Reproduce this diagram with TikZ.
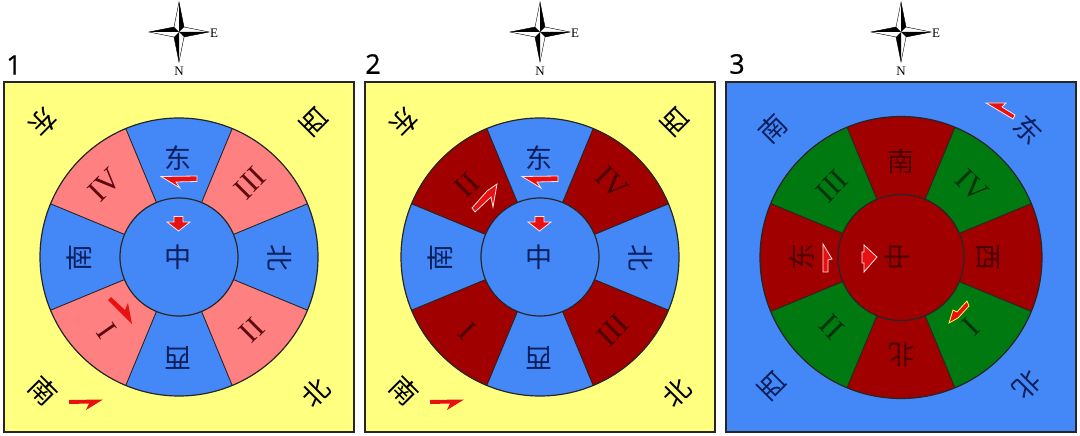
\documentclass[tikz,border=0pt]{standalone}
\usepackage{fontspec}
\setmainfont{Liberation Serif}
\newfontfamily\cjk{Noto Sans CJK SC}
\newfontfamily\numfont[FakeBold=0.6]{Open Sans}
\definecolor{wyellow}{HTML}{FFFF80}
\definecolor{wblue}{HTML}{4488F8}
\definecolor{wpink}{HTML}{FF8080}
\definecolor{wdark}{HTML}{A00000}
\definecolor{wgreen}{HTML}{007A10}
\definecolor{arrowred}{HTML}{E81010}
\definecolor{inkblue}{HTML}{0A1F5C}
\definecolor{inkred}{HTML}{4A0000}
\definecolor{inkmaroon}{HTML}{5C0A10}
\definecolor{inkgreen}{HTML}{00330A}
\tikzset{
  x=1pt,y=-1pt,
  panel/.style={draw=black!85,line width=1.3pt},
  sector/.style={draw=black!85,line width=1.2pt},
  hanzi/.style={font=\cjk\fontsize{27}{27}\selectfont,inner sep=0pt,text=#1},
  hanzi/.default=black,
  roman/.style={font=\fontsize{31}{31}\selectfont,inner sep=0pt,text=#1},
  flow/.style={fill=arrowred,draw=white!90!red,line width=0.8pt,line join=miter},
  flowplain/.style={fill=arrowred,draw=none},
  compasslabel/.style={font=\fontsize{13}{13}\selectfont,inner sep=0pt,text=black},
  numlabel/.style={font=\numfont\fontsize{27}{27}\selectfont,inner sep=0pt,text=black},
}
\newcommand{\wheel}[7]{%
  \fill[#5] (#1,#7) circle[radius=#2];
  \foreach \a in {0,90,180,270}{
    \fill[#4] ({#1+#3*cos(\a+22.5)},{#7-#3*sin(\a+22.5)}) -- ({#1+#2*cos(\a+22.5)},{#7-#2*sin(\a+22.5)})
      arc[start angle={-(\a+22.5)},delta angle=-45,radius=#2]
      -- ({#1+#3*cos(\a+67.5)},{#7-#3*sin(\a+67.5)}) -- cycle;
    \draw[sector,line width=0.9pt] ({#1+#3*cos(\a+22.5)},{#7-#3*sin(\a+22.5)}) -- ({#1+#2*cos(\a+22.5)},{#7-#2*sin(\a+22.5)});
    \draw[sector,line width=0.9pt] ({#1+#3*cos(\a+67.5)},{#7-#3*sin(\a+67.5)}) -- ({#1+#2*cos(\a+67.5)},{#7-#2*sin(\a+67.5)});
  }
  \draw[sector] (#1,#7) circle[radius=#2];
  \filldraw[fill=#6,sector] (#1,#7) circle[radius=#3];
}
\newcommand{\compass}[1]{%
  \begin{scope}[shift={(#1,32)}]
    \filldraw[fill=white,draw=black,line width=0.4pt] (0,-30) -- (5,-5) -- (30,0) -- (5,5) -- (0,30) -- (-5,5) -- (-30,0) -- (-5,-5) -- cycle;
    \fill[black] (0,-30) -- (5,-5) -- (0,0) -- cycle;
    \fill[black] (30,0) -- (5,5) -- (0,0) -- cycle;
    \fill[black] (0,30) -- (-5,5) -- (0,0) -- cycle;
    \fill[black] (-30,0) -- (-5,-5) -- (0,0) -- cycle;
  \end{scope}
  \node[compasslabel] (e#1) at (#1+35,33) {E};
  \node[compasslabel] (n#1) at (#1,71) {N};
}
\begin{document}
\begin{tikzpicture}
\useasboundingbox (0,0) rectangle (1080,436);
\fill[white] (0,0) rectangle (1080,436);
\filldraw[fill=wyellow,panel] (4,82) rectangle (354,432);
\filldraw[fill=wyellow,panel] (365,82) rectangle (715,432);
\filldraw[fill=wblue,panel] (726,82) rectangle (1076,432);
\compass{179}\compass{540}\compass{901}
\node[numlabel] (n1) at (14,65) {1};
\node[numlabel] (n2) at (373,64) {2};
\node[numlabel] (n3) at (737,64) {3};
\wheel{179}{139}{59}{wpink}{wblue}{wblue}{257}
\wheel{540}{139}{59}{wdark}{wblue}{wblue}{257}
\wheel{901}{141}{63}{wgreen}{wdark}{wdark}{257.5}
\foreach \dx in {0,361}{
  \foreach \t/\x/\y/\r in {东/178/158/0,南/79/258/90,西/178/358/180,北/280/258/-90,中/178/257/0}{
    \node[hanzi=inkblue,rotate=\r] at (\x+\dx,\y) {\t};}
  \foreach \t/\x/\y/\r in {东/43/122/-135,西/314/122/135,南/43/391/-45,北/316/393/45}{
    \node[hanzi=black,rotate=\r] at (\x+\dx,\y) {\t};}
}
\foreach \t/\x/\y/\r in {南/901/161/0,东/802/257/90,北/902/355/180,西/988/257/-90,中/897/257/90}{
  \node[hanzi=inkred,rotate=\r] at (\x,\y) {\t};}
\foreach \t/\x/\y/\r in {南/773/129/45,东/1028/130/-45,西/772/386/135,北/1027/385/-135}{
  \node[hanzi=inkblue,rotate=\r] at (\x,\y) {\t};}
\foreach \t/\x/\y/\r in {IV/105/185/45,III/250/183/45,II/252/330/45,I/107/331/-55}{
  \node[roman=inkmaroon,rotate=\r] at (\x,\y) {\t};}
\foreach \t/\x/\y/\r in {II/467/185/45,IV/612/183/-45,III/613/330/45,I/467/331/-45}{
  \node[roman=inkred,rotate=\r] at (\x,\y) {\t};}
\foreach \t/\x/\y/\r in {III/832/186/45,IV/972/186/-45,I/971/327/45,II/832/327/-45}{
  \node[roman=inkgreen,rotate=\r] at (\x,\y) {\t};}
\foreach \dx/\dy in {0/0,361/0}{
  \filldraw[flow] (161+\dx,176.5) -- (197+\dx,176) -- (197+\dx,181.5) -- (176+\dx,182) -- (180+\dx,188) -- cycle;
  \filldraw[flow] (174+\dx,216.5) -- (183+\dx,216.5) -- (183+\dx,222) -- (190+\dx,222) -- (178.5+\dx,231) -- (167+\dx,222) -- (174+\dx,222) -- cycle;
  \fill[arrowred] (69+\dx,400) -- (103+\dx,399.5) -- (86+\dx,410) -- (89+\dx,403.5) -- (69+\dx,404) -- cycle;
}
\fill[arrowred] (108,300) -- (111,297) -- (125,310) -- (128,303) -- (132,324) -- cycle;
\filldraw[flow] (497,184) -- (487,191) -- (472,208) -- (475,212) -- (491,197) -- (493,207) -- cycle;
\filldraw[flow] (986,103) -- (1006,103) -- (1002,107) -- (1015,115) -- (1013,119) -- cycle;
\filldraw[flow] (823,244) -- (832,259) -- (828,260) -- (828,272) -- (823,272) -- cycle;
\filldraw[flow] (877,257) -- (864,245) -- (864,252) -- (862,252) -- (862,263) -- (864,263) -- (864,272) -- cycle;
\filldraw[flow,draw=yellow!70!white] (949,323) -- (953,310) -- (957,312) -- (967,301) -- (969,306) -- (958,318) -- cycle;
\end{tikzpicture}
\end{document}
